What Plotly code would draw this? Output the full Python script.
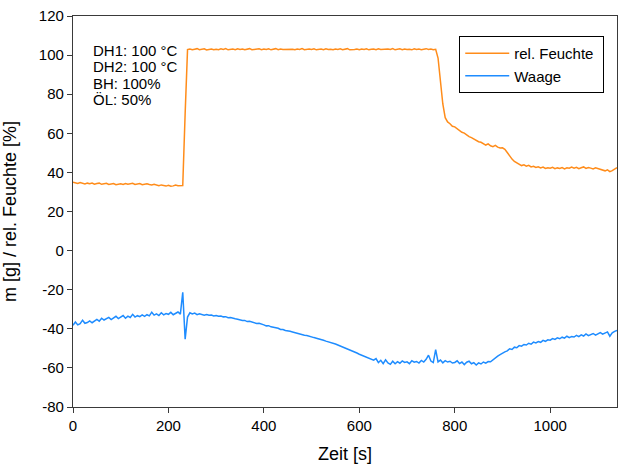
import plotly.graph_objects as go

# Sampling grid of the measurement [s]
zeit_s = list(range(0, 1141, 5))

# Relative humidity [%]
rel_feuchte = [
    35.0, 34.6, 34.3, 34.8, 34.4, 34.1, 34.5, 34.2, 34.6, 34.0,
    34.3, 34.5, 33.9, 34.2, 34.4, 33.8, 34.1, 34.3, 33.7, 34.0,
    34.2, 33.8, 34.3, 33.9, 34.1, 34.4, 33.8, 34.0, 34.3, 33.7,
    34.1, 34.2, 33.8, 33.6, 33.9, 33.5, 33.2, 33.6, 33.3, 33.0,
    33.4, 32.9, 33.1, 33.5, 33.2, 33.4, 33.3, 70.0, 102.8, 103.1,
    102.7, 103.0, 103.3, 102.8, 102.9, 103.2, 102.6, 103.0, 103.1, 102.7,
    103.0, 102.8, 103.2, 102.9, 103.3, 102.7, 103.0, 103.1, 102.8, 103.2,
    102.9, 103.1, 102.7, 103.0, 103.3, 102.8, 103.0, 102.9, 103.2, 102.8,
    103.1, 102.9, 103.2, 102.7, 103.0, 103.3, 102.8, 103.1, 102.9, 103.0,
    102.8, 103.2, 103.0, 102.7, 103.1, 102.9, 103.3, 102.8, 103.0, 103.1,
    102.9, 103.2, 102.7, 103.0, 103.1, 102.8, 103.2, 102.9, 103.0, 102.7,
    103.1, 102.9, 103.2, 102.8, 103.0, 103.3, 102.7, 103.0, 102.9, 103.1,
    102.8, 103.1, 102.9, 103.2, 102.7, 103.0, 103.1, 102.8, 103.2, 102.9,
    103.0, 102.8, 103.1, 102.9, 103.3, 102.7, 103.0, 103.2, 102.8, 103.1,
    102.9, 103.0, 102.7, 103.2, 102.9, 103.1, 102.8, 103.0, 103.3, 102.9,
    103.1, 102.8, 103.0, 98.5, 87.0, 75.0, 68.0, 65.8, 64.9, 63.6,
    63.3, 62.2, 61.6, 60.5, 60.1, 59.0, 58.3, 57.8, 57.0, 56.6,
    55.7, 55.4, 54.8, 54.0, 54.6, 53.6, 53.2, 53.8, 52.9, 52.5,
    52.6, 51.8, 50.2, 48.4, 46.8, 45.6, 44.8, 44.2, 43.5, 43.9,
    43.2, 43.6, 42.8, 43.1, 42.5, 42.9, 42.3, 42.7, 42.0, 42.4,
    42.1, 42.6, 41.9, 42.3, 42.0, 42.5, 41.8, 42.4, 42.1, 42.7,
    42.2, 42.6, 41.9, 42.4, 42.8, 42.0, 42.5, 42.2, 41.8, 42.3,
    41.9, 41.5, 41.2, 40.8, 41.3, 40.4, 40.9, 41.8, 42.4,
]

# Balance reading [g]
waage = [
    -38.2, -36.5, -38.0, -37.4, -35.6, -37.2, -36.8, -36.0, -36.9, -35.8,
    -35.2, -36.1, -34.6, -35.5, -35.0, -34.2, -35.3, -34.5, -33.6, -34.8,
    -34.1, -33.2, -34.6, -33.5, -34.2, -32.6, -34.0, -33.3, -33.8, -32.9,
    -33.6, -32.8, -33.4, -31.5, -33.0, -32.4, -33.2, -31.8, -32.9, -32.2,
    -32.6, -31.6, -32.8, -32.0, -31.4, -32.5, -21.3, -45.3, -34.0, -31.8,
    -32.4, -32.0, -32.8, -32.3, -32.6, -33.0, -32.7, -33.1, -33.0, -33.4,
    -33.2, -33.6, -33.5, -33.9, -33.8, -34.3, -34.2, -34.7, -34.9, -35.1,
    -35.4, -35.8, -35.7, -36.3, -36.2, -36.7, -36.9, -37.3, -37.2, -37.8,
    -38.0, -38.5, -38.4, -39.0, -39.2, -39.6, -39.7, -40.3, -40.4, -40.9,
    -41.0, -41.3, -41.6, -42.0, -42.1, -42.6, -42.8, -43.3, -43.4, -43.9,
    -44.2, -44.5, -44.8, -45.3, -45.5, -45.9, -46.3, -46.6, -47.0, -47.4,
    -47.8, -48.3, -48.8, -49.2, -49.6, -50.2, -50.7, -51.2, -51.7, -52.4,
    -53.0, -53.5, -54.1, -54.6, -55.0, -55.5, -56.0, -55.2, -57.3, -56.1,
    -57.8, -55.9, -57.5, -58.2, -56.6, -57.9, -56.8, -57.6, -56.4, -57.2,
    -56.9, -57.8, -56.3, -57.1, -56.7, -57.5, -56.2, -57.0, -55.6, -53.5,
    -56.5, -57.3, -50.7, -56.9, -56.0, -57.4, -56.3, -57.0, -56.6, -57.5,
    -57.2, -56.4, -57.8, -57.0, -58.3, -57.1, -56.6, -57.9, -57.3, -58.5,
    -57.4, -58.0, -57.0, -57.6, -56.8, -56.9, -55.8, -54.9, -54.0, -53.2,
    -52.4, -51.8, -51.3, -50.2, -50.6, -49.4, -49.7, -48.6, -48.9, -48.0,
    -48.3, -47.4, -47.9, -46.8, -47.2, -46.5, -46.9, -45.9, -46.4, -45.6,
    -45.8, -45.0, -45.4, -44.6, -45.1, -44.3, -44.8, -43.8, -44.5, -43.9,
    -44.2, -43.4, -44.0, -43.1, -43.7, -42.6, -43.5, -42.9, -42.4, -43.2,
    -42.5, -41.9, -42.7, -42.0, -41.6, -43.8, -42.1, -41.3, -40.8,
]

# Axis ticks
x_ticks = [0, 200, 400, 600, 800, 1000]
y_ticks = [-80, -60, -40, -20, 0, 20, 40, 60, 80, 100, 120]
y_tick_labels = ["-80", "-60", "-40", "-20", "0", "20", "40", "60", "80", "100", "120"]

# Test conditions
bedingungen = ["DH1: 100 °C", "DH2: 100 °C", "BH: 100%", "ÖL: 50%"]

FONT = "Arial, Liberation Sans, sans-serif"
TEXT = "#000000"
AXIS = "#3a3a3a"

fig = go.Figure()
fig.add_trace(go.Scatter(
    x=zeit_s, y=rel_feuchte, mode="lines", name="rel. Feuchte\u00a0",
    line=dict(color="#FF8C1A", width=1.5),
))
fig.add_trace(go.Scatter(
    x=zeit_s, y=waage, mode="lines", name="Waage",
    line=dict(color="#1E8CFF", width=1.5),
))

for i, txt in enumerate(bedingungen):
    fig.add_annotation(
        text=txt, xref="paper", yref="paper",
        x=0.034, y=0.913 - i * 0.0425, xanchor="left", yanchor="middle",
        showarrow=False, font=dict(size=15, color=TEXT, family=FONT),
    )

axis_common = dict(
    showline=True, linecolor=AXIS, linewidth=1.2, mirror=True,
    ticks="outside", ticklen=5, tickwidth=1, tickcolor=AXIS,
    showgrid=False, zeroline=False,
    tickfont=dict(size=15, color=TEXT, family=FONT),
)

fig.update_layout(
    width=618, height=474,
    margin=dict(l=73, r=1, t=16, b=67),
    paper_bgcolor="white", plot_bgcolor="white",
    font=dict(family=FONT, color=TEXT),
    xaxis=dict(
        range=[0, 1140], tickmode="array", tickvals=x_ticks,
        title=dict(text="Zeit [s]", font=dict(size=18, color=TEXT, family=FONT), standoff=14),
        **axis_common,
    ),
    yaxis=dict(
        range=[-80, 120], tickmode="array", tickvals=y_ticks, ticktext=y_tick_labels,
        title=dict(text="m [g] / rel. Feuchte [%]", font=dict(size=18, color=TEXT, family=FONT), standoff=18),
        **axis_common,
    ),
    legend=dict(
        x=0.71, y=0.949, xanchor="left", yanchor="top",
        bgcolor="white", bordercolor="#000000", borderwidth=1,
        itemwidth=44,
        font=dict(size=15, color=TEXT, family=FONT),
    ),
    showlegend=True,
)

fig.write_html("out.html")
